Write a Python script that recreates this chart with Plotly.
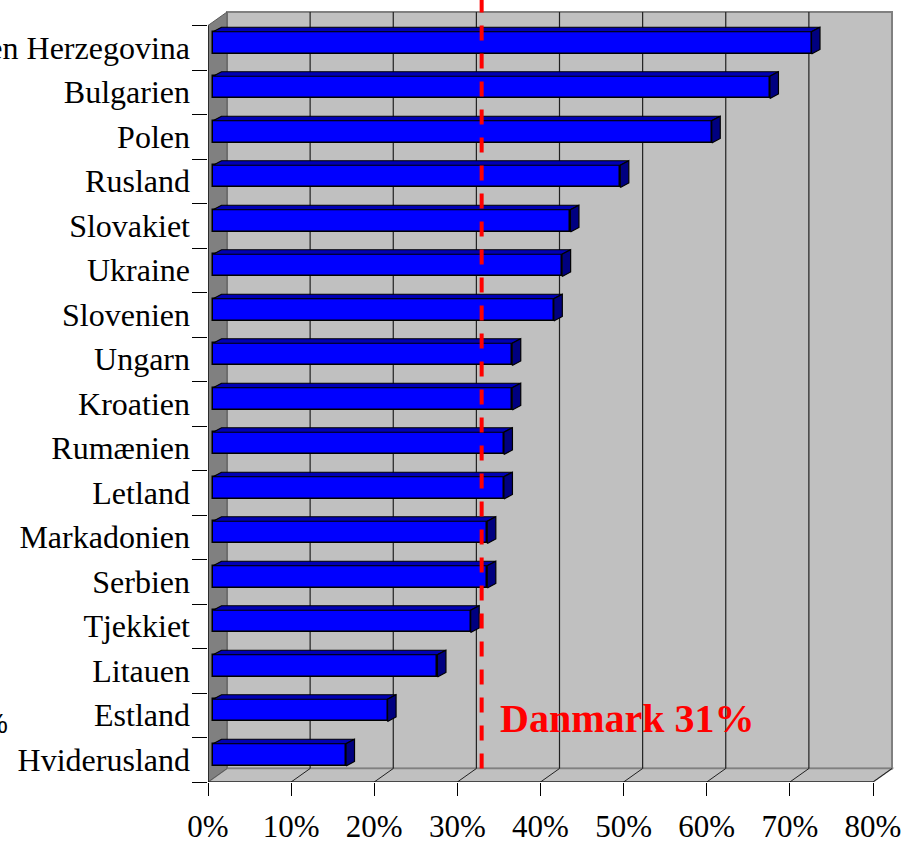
import plotly.graph_objects as go

# ---------------- data ----------------
countries = ["Bosnien Herzegovina", "Bulgarien", "Polen", "Rusland", "Slovakiet",
             "Ukraine", "Slovenien", "Ungarn", "Kroatien", "Rumænien", "Letland",
             "Markadonien", "Serbien", "Tjekkiet", "Litauen", "Estland", "Hviderusland"]
values = [72, 67, 60, 49, 43, 42, 41, 36, 36, 35, 35, 33, 33, 31, 27, 21, 16]
x_ticks = [0, 10, 20, 30, 40, 50, 60, 70, 80]
x_tick_labels = ["0%", "10%", "20%", "30%", "40%", "50%", "60%", "70%", "80%"]
denmark_value = 31
denmark_label = "Danmark 31%"
fragment_label = "%"

# ---------------- geometry (pixel based) ----------------
W, H = 915, 843
L_MARGIN, B_MARGIN = 208, 61
PW, PH = W - L_MARGIN, H - B_MARGIN
PX_PCT = 8.3125            # pixels per percent
ROW = 44.5                 # pixels per category
XMAX = x_ticks[-1]
N = len(countries)
Y0 = -0.5
TOP = N - 0.5
YTOP = Y0 + PH / ROW
DX = 19 / PX_PCT           # wall depth
DY = 13.5 / ROW
BAR_BASE = 5 / PX_PCT
BAR_DX = 8.5 / PX_PCT
BAR_DY = 4.5 / ROW
BAR_OFF, BAR_W = -0.14, 0.5

cats = countries[::-1]
vals = values[::-1]

font_serif = "Liberation Serif, Times New Roman, serif"

fig = go.Figure()

# front faces
fig.add_trace(go.Bar(orientation="h", y=cats, x=vals, base=BAR_BASE,
                     width=BAR_W, offset=BAR_OFF,
                     marker=dict(color="#0000FF", line=dict(color="black", width=1.5)),
                     yaxis="y", xaxis="x", hoverinfo="skip"))

# top faces and side faces
tx, ty, sx, sy = [], [], [], []
for i, v in enumerate(vals):
    lo = i + BAR_OFF
    hi = lo + BAR_W
    x1 = BAR_BASE + v
    tx += [BAR_BASE, BAR_BASE + BAR_DX, x1 + BAR_DX, x1, BAR_BASE, None]
    ty += [hi, hi + BAR_DY, hi + BAR_DY, hi, hi, None]
    sx += [x1, x1, x1 + BAR_DX, x1 + BAR_DX, x1, None]
    sy += [lo, hi, hi + BAR_DY, lo + BAR_DY, lo, None]

fig.add_trace(go.Scatter(x=tx, y=ty, mode="lines", fill="toself", fillcolor="#0000B4",
                         line=dict(color="black", width=1.2), yaxis="y2", hoverinfo="skip"))
fig.add_trace(go.Scatter(x=sx, y=sy, mode="lines", fill="toself", fillcolor="#000080",
                         line=dict(color="black", width=1.2), yaxis="y2", hoverinfo="skip"))


def path(points):
    return "M " + " L ".join(f"{x},{y}" for x, y in points) + " Z"


shapes = []
# back wall
shapes.append(dict(type="rect", xref="x", yref="y2", x0=DX, x1=XMAX + DX,
                   y0=Y0 + DY, y1=TOP + DY, fillcolor="#C0C0C0",
                   line=dict(color="#808080", width=2), layer="below"))
# floor
shapes.append(dict(type="path", xref="x", yref="y2",
                   path=path([(0, Y0), (XMAX, Y0), (XMAX + DX, Y0 + DY), (DX, Y0 + DY)]),
                   fillcolor="#C0C0C0", line=dict(color="#808080", width=1.5), layer="below"))
# side wall
shapes.append(dict(type="path", xref="x", yref="y2",
                   path=path([(0, Y0), (DX, Y0 + DY), (DX, TOP + DY), (0, TOP)]),
                   fillcolor="#808080", line=dict(color="#5a5a5a", width=1), layer="below"))
# back-wall gridlines
for t in x_ticks[1:-1]:
    shapes.append(dict(type="line", xref="x", yref="y2", x0=t + DX, x1=t + DX,
                       y0=Y0 + DY, y1=TOP + DY, line=dict(color="#202020", width=1.2),
                       layer="below"))
# floor diagonals
for t in x_ticks[1:]:
    shapes.append(dict(type="line", xref="x", yref="y2", x0=t, x1=t + DX,
                       y0=Y0, y1=Y0 + DY, line=dict(color="#202020", width=1),
                       layer="below"))
# axis lines
shapes.append(dict(type="line", xref="x", yref="y2", x0=0, x1=0, y0=Y0, y1=TOP,
                   line=dict(color="black", width=1.2)))
shapes.append(dict(type="line", xref="x", yref="y2", x0=0, x1=XMAX, y0=Y0, y1=Y0,
                   line=dict(color="black", width=1.2)))
# Danmark reference line
dk_x = denmark_value + 0.84 * DX
shapes.append(dict(type="line", xref="x", yref="y2", x0=dk_x, x1=dk_x,
                   y0=Y0 + DY, y1=YTOP, layer="above",
                   line=dict(color="#FF0000", width=4, dash="15px,13px")))

annotations = [
    dict(text=f"<b>{denmark_label}</b>", xref="x", yref="y2", x=dk_x + 2.0, y=0.92,
         xanchor="left", yanchor="middle", showarrow=False,
         font=dict(family=font_serif, size=40, color="#FF0000")),
    dict(text=fragment_label, xref="paper", yref="y2", x=(10 - L_MARGIN) / PW, y=0.82,
         xanchor="right", yanchor="middle", showarrow=False,
         font=dict(family="Liberation Sans, Arial, sans-serif", size=28, color="black")),
]

fig.update_layout(
    width=W, height=H,
    margin=dict(l=L_MARGIN, r=0, t=0, b=B_MARGIN, pad=0, autoexpand=False),
    paper_bgcolor="white", plot_bgcolor="white",
    showlegend=False, bargap=0,
    shapes=shapes, annotations=annotations,
    xaxis=dict(range=[-0.001, PW / PX_PCT], tickvals=x_ticks, ticktext=x_tick_labels,
               ticks="outside", ticklen=13, tickwidth=1.2, tickcolor="black",
               ticklabelstandoff=4,
               showgrid=False, zeroline=False, showline=False, automargin=False,
               tickfont=dict(family=font_serif, size=31, color="black")),
    yaxis=dict(type="category", categoryorder="array", categoryarray=cats,
               range=[Y0, YTOP], tickson="boundaries", ticks="outside", ticklen=15,
               tickwidth=1.2, tickcolor="black", ticklabelstandoff=17,
               showgrid=False, zeroline=False,
               showline=False, automargin=False,
               tickfont=dict(family=font_serif, size=32, color="black")),
    yaxis2=dict(type="linear", overlaying="y", range=[Y0, YTOP], visible=False),
)

fig.write_html("out.html", config={"displayModeBar": False},
               post_script="document.body.style.margin='0';document.body.style.padding='0';"
                           "document.body.style.overflow='hidden';")
